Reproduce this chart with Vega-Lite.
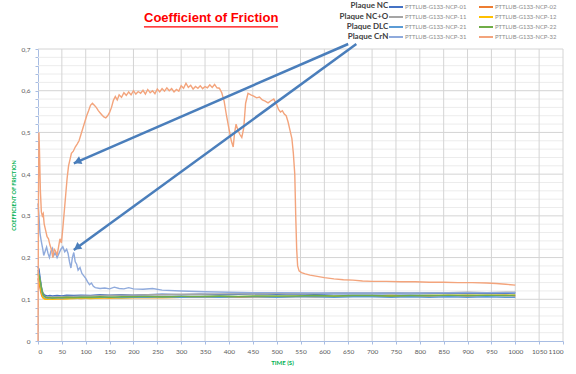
{
  "$schema": "https://vega.github.io/schema/vega-lite/v6.json",
  "width": 525,
  "height": 292,
  "autosize": {"type": "none"},
  "padding": {"left": 38, "top": 49, "right": 13, "bottom": 33},
  "background": "white",
  "config": {"view": {"stroke": null}, "font": "Lato"},
  "title": {"text": "Coefficient of Friction", "font": "Liberation Sans", "fontSize": 13, "fontWeight": "bold", "color": "#ff0000", "anchor": "start", "frame": "group", "dx": 106, "offset": -24},
  "datasets": {
    "vgrid": [
      {"t":50,"v":0,"v2":0.7},{"t":100,"v":0,"v2":0.7},{"t":150,"v":0,"v2":0.7},{"t":200,"v":0,"v2":0.7},{"t":250,"v":0,"v2":0.7},{"t":300,"v":0,"v2":0.7},{"t":350,"v":0,"v2":0.7},{"t":400,"v":0,"v2":0.7},{"t":450,"v":0,"v2":0.7},{"t":500,"v":0,"v2":0.7},{"t":550,"v":0,"v2":0.7},{"t":600,"v":0,"v2":0.7},{"t":650,"v":0,"v2":0.7},{"t":700,"v":0,"v2":0.7},{"t":750,"v":0,"v2":0.7},{"t":800,"v":0,"v2":0.7},{"t":850,"v":0,"v2":0.7},{"t":900,"v":0,"v2":0.7},{"t":950,"v":0,"v2":0.7},{"t":1000,"v":0,"v2":0.7},{"t":1050,"v":0,"v2":0.7},{"t":1100,"v":0,"v2":0.7}
    ],
    "hminor": [
      {"t":0,"t2":1100,"v":0.02},{"t":0,"t2":1100,"v":0.04},{"t":0,"t2":1100,"v":0.06},{"t":0,"t2":1100,"v":0.08},
      {"t":0,"t2":1100,"v":0.12},{"t":0,"t2":1100,"v":0.14},{"t":0,"t2":1100,"v":0.16},{"t":0,"t2":1100,"v":0.18},
      {"t":0,"t2":1100,"v":0.22},{"t":0,"t2":1100,"v":0.24},{"t":0,"t2":1100,"v":0.26},{"t":0,"t2":1100,"v":0.28},
      {"t":0,"t2":1100,"v":0.32},{"t":0,"t2":1100,"v":0.34},{"t":0,"t2":1100,"v":0.36},{"t":0,"t2":1100,"v":0.38},
      {"t":0,"t2":1100,"v":0.42},{"t":0,"t2":1100,"v":0.44},{"t":0,"t2":1100,"v":0.46},{"t":0,"t2":1100,"v":0.48},
      {"t":0,"t2":1100,"v":0.52},{"t":0,"t2":1100,"v":0.54},{"t":0,"t2":1100,"v":0.56},{"t":0,"t2":1100,"v":0.58},
      {"t":0,"t2":1100,"v":0.62},{"t":0,"t2":1100,"v":0.64},{"t":0,"t2":1100,"v":0.66},{"t":0,"t2":1100,"v":0.68}
    ],
    "hmajor": [
      {"t":0,"t2":1100,"v":0.1},{"t":0,"t2":1100,"v":0.2},{"t":0,"t2":1100,"v":0.3},{"t":0,"t2":1100,"v":0.4},{"t":0,"t2":1100,"v":0.5},{"t":0,"t2":1100,"v":0.6},{"t":0,"t2":1100,"v":0.7}
    ],
    "cof": [
      {"s":"PTTLUB-G133-NCP-01","t":0,"v":0.178},{"s":"PTTLUB-G133-NCP-01","t":2,"v":0.172},{"s":"PTTLUB-G133-NCP-01","t":4,"v":0.155},{"s":"PTTLUB-G133-NCP-01","t":6,"v":0.138},{"s":"PTTLUB-G133-NCP-01","t":8,"v":0.124},{"s":"PTTLUB-G133-NCP-01","t":10,"v":0.116},{"s":"PTTLUB-G133-NCP-01","t":13,"v":0.111},{"s":"PTTLUB-G133-NCP-01","t":16,"v":0.109},{"s":"PTTLUB-G133-NCP-01","t":20,"v":0.108},{"s":"PTTLUB-G133-NCP-01","t":25,"v":0.109},{"s":"PTTLUB-G133-NCP-01","t":30,"v":0.108},{"s":"PTTLUB-G133-NCP-01","t":40,"v":0.109},{"s":"PTTLUB-G133-NCP-01","t":50,"v":0.108},{"s":"PTTLUB-G133-NCP-01","t":60,"v":0.11},{"s":"PTTLUB-G133-NCP-01","t":75,"v":0.109},{"s":"PTTLUB-G133-NCP-01","t":90,"v":0.11},{"s":"PTTLUB-G133-NCP-01","t":110,"v":0.109},{"s":"PTTLUB-G133-NCP-01","t":130,"v":0.111},{"s":"PTTLUB-G133-NCP-01","t":150,"v":0.11},{"s":"PTTLUB-G133-NCP-01","t":175,"v":0.111},{"s":"PTTLUB-G133-NCP-01","t":200,"v":0.11},{"s":"PTTLUB-G133-NCP-01","t":230,"v":0.111},{"s":"PTTLUB-G133-NCP-01","t":260,"v":0.112},{"s":"PTTLUB-G133-NCP-01","t":300,"v":0.111},{"s":"PTTLUB-G133-NCP-01","t":340,"v":0.112},{"s":"PTTLUB-G133-NCP-01","t":380,"v":0.111},{"s":"PTTLUB-G133-NCP-01","t":420,"v":0.112},{"s":"PTTLUB-G133-NCP-01","t":460,"v":0.113},{"s":"PTTLUB-G133-NCP-01","t":500,"v":0.112},{"s":"PTTLUB-G133-NCP-01","t":540,"v":0.113},{"s":"PTTLUB-G133-NCP-01","t":580,"v":0.112},{"s":"PTTLUB-G133-NCP-01","t":620,"v":0.113},{"s":"PTTLUB-G133-NCP-01","t":660,"v":0.114},{"s":"PTTLUB-G133-NCP-01","t":700,"v":0.113},{"s":"PTTLUB-G133-NCP-01","t":740,"v":0.114},{"s":"PTTLUB-G133-NCP-01","t":780,"v":0.113},{"s":"PTTLUB-G133-NCP-01","t":820,"v":0.114},{"s":"PTTLUB-G133-NCP-01","t":860,"v":0.115},{"s":"PTTLUB-G133-NCP-01","t":900,"v":0.114},{"s":"PTTLUB-G133-NCP-01","t":940,"v":0.115},{"s":"PTTLUB-G133-NCP-01","t":980,"v":0.114},{"s":"PTTLUB-G133-NCP-01","t":1000,"v":0.115},
      {"s":"PTTLUB-G133-NCP-02","t":0,"v":0.15},{"s":"PTTLUB-G133-NCP-02","t":2,"v":0.14},{"s":"PTTLUB-G133-NCP-02","t":4,"v":0.128},{"s":"PTTLUB-G133-NCP-02","t":6,"v":0.116},{"s":"PTTLUB-G133-NCP-02","t":8,"v":0.108},{"s":"PTTLUB-G133-NCP-02","t":10,"v":0.104},{"s":"PTTLUB-G133-NCP-02","t":13,"v":0.102},{"s":"PTTLUB-G133-NCP-02","t":16,"v":0.101},{"s":"PTTLUB-G133-NCP-02","t":20,"v":0.101},{"s":"PTTLUB-G133-NCP-02","t":25,"v":0.102},{"s":"PTTLUB-G133-NCP-02","t":30,"v":0.101},{"s":"PTTLUB-G133-NCP-02","t":40,"v":0.102},{"s":"PTTLUB-G133-NCP-02","t":50,"v":0.101},{"s":"PTTLUB-G133-NCP-02","t":60,"v":0.102},{"s":"PTTLUB-G133-NCP-02","t":75,"v":0.103},{"s":"PTTLUB-G133-NCP-02","t":90,"v":0.102},{"s":"PTTLUB-G133-NCP-02","t":110,"v":0.103},{"s":"PTTLUB-G133-NCP-02","t":130,"v":0.104},{"s":"PTTLUB-G133-NCP-02","t":150,"v":0.103},{"s":"PTTLUB-G133-NCP-02","t":175,"v":0.104},{"s":"PTTLUB-G133-NCP-02","t":200,"v":0.104},{"s":"PTTLUB-G133-NCP-02","t":230,"v":0.105},{"s":"PTTLUB-G133-NCP-02","t":260,"v":0.104},{"s":"PTTLUB-G133-NCP-02","t":300,"v":0.105},{"s":"PTTLUB-G133-NCP-02","t":340,"v":0.105},{"s":"PTTLUB-G133-NCP-02","t":380,"v":0.106},{"s":"PTTLUB-G133-NCP-02","t":420,"v":0.105},{"s":"PTTLUB-G133-NCP-02","t":460,"v":0.106},{"s":"PTTLUB-G133-NCP-02","t":500,"v":0.106},{"s":"PTTLUB-G133-NCP-02","t":540,"v":0.107},{"s":"PTTLUB-G133-NCP-02","t":580,"v":0.106},{"s":"PTTLUB-G133-NCP-02","t":620,"v":0.107},{"s":"PTTLUB-G133-NCP-02","t":660,"v":0.107},{"s":"PTTLUB-G133-NCP-02","t":700,"v":0.108},{"s":"PTTLUB-G133-NCP-02","t":740,"v":0.107},{"s":"PTTLUB-G133-NCP-02","t":780,"v":0.108},{"s":"PTTLUB-G133-NCP-02","t":820,"v":0.108},{"s":"PTTLUB-G133-NCP-02","t":860,"v":0.109},{"s":"PTTLUB-G133-NCP-02","t":900,"v":0.108},{"s":"PTTLUB-G133-NCP-02","t":940,"v":0.109},{"s":"PTTLUB-G133-NCP-02","t":980,"v":0.109},{"s":"PTTLUB-G133-NCP-02","t":1000,"v":0.108},
      {"s":"PTTLUB-G133-NCP-11","t":0,"v":0.165},{"s":"PTTLUB-G133-NCP-11","t":2,"v":0.16},{"s":"PTTLUB-G133-NCP-11","t":4,"v":0.148},{"s":"PTTLUB-G133-NCP-11","t":6,"v":0.134},{"s":"PTTLUB-G133-NCP-11","t":8,"v":0.121},{"s":"PTTLUB-G133-NCP-11","t":10,"v":0.113},{"s":"PTTLUB-G133-NCP-11","t":13,"v":0.108},{"s":"PTTLUB-G133-NCP-11","t":16,"v":0.106},{"s":"PTTLUB-G133-NCP-11","t":20,"v":0.105},{"s":"PTTLUB-G133-NCP-11","t":25,"v":0.106},{"s":"PTTLUB-G133-NCP-11","t":30,"v":0.105},{"s":"PTTLUB-G133-NCP-11","t":40,"v":0.106},{"s":"PTTLUB-G133-NCP-11","t":50,"v":0.106},{"s":"PTTLUB-G133-NCP-11","t":60,"v":0.107},{"s":"PTTLUB-G133-NCP-11","t":75,"v":0.107},{"s":"PTTLUB-G133-NCP-11","t":90,"v":0.108},{"s":"PTTLUB-G133-NCP-11","t":110,"v":0.108},{"s":"PTTLUB-G133-NCP-11","t":130,"v":0.109},{"s":"PTTLUB-G133-NCP-11","t":150,"v":0.109},{"s":"PTTLUB-G133-NCP-11","t":175,"v":0.11},{"s":"PTTLUB-G133-NCP-11","t":200,"v":0.11},{"s":"PTTLUB-G133-NCP-11","t":230,"v":0.111},{"s":"PTTLUB-G133-NCP-11","t":260,"v":0.111},{"s":"PTTLUB-G133-NCP-11","t":300,"v":0.112},{"s":"PTTLUB-G133-NCP-11","t":340,"v":0.112},{"s":"PTTLUB-G133-NCP-11","t":380,"v":0.113},{"s":"PTTLUB-G133-NCP-11","t":420,"v":0.113},{"s":"PTTLUB-G133-NCP-11","t":460,"v":0.113},{"s":"PTTLUB-G133-NCP-11","t":500,"v":0.114},{"s":"PTTLUB-G133-NCP-11","t":540,"v":0.114},{"s":"PTTLUB-G133-NCP-11","t":580,"v":0.114},{"s":"PTTLUB-G133-NCP-11","t":620,"v":0.115},{"s":"PTTLUB-G133-NCP-11","t":660,"v":0.115},{"s":"PTTLUB-G133-NCP-11","t":700,"v":0.115},{"s":"PTTLUB-G133-NCP-11","t":740,"v":0.116},{"s":"PTTLUB-G133-NCP-11","t":780,"v":0.115},{"s":"PTTLUB-G133-NCP-11","t":820,"v":0.116},{"s":"PTTLUB-G133-NCP-11","t":860,"v":0.116},{"s":"PTTLUB-G133-NCP-11","t":900,"v":0.117},{"s":"PTTLUB-G133-NCP-11","t":940,"v":0.116},{"s":"PTTLUB-G133-NCP-11","t":980,"v":0.117},{"s":"PTTLUB-G133-NCP-11","t":1000,"v":0.117},
      {"s":"PTTLUB-G133-NCP-12","t":0,"v":0.16},{"s":"PTTLUB-G133-NCP-12","t":2,"v":0.152},{"s":"PTTLUB-G133-NCP-12","t":4,"v":0.138},{"s":"PTTLUB-G133-NCP-12","t":6,"v":0.124},{"s":"PTTLUB-G133-NCP-12","t":8,"v":0.112},{"s":"PTTLUB-G133-NCP-12","t":10,"v":0.105},{"s":"PTTLUB-G133-NCP-12","t":13,"v":0.101},{"s":"PTTLUB-G133-NCP-12","t":16,"v":0.1},{"s":"PTTLUB-G133-NCP-12","t":20,"v":0.1},{"s":"PTTLUB-G133-NCP-12","t":25,"v":0.101},{"s":"PTTLUB-G133-NCP-12","t":30,"v":0.1},{"s":"PTTLUB-G133-NCP-12","t":40,"v":0.101},{"s":"PTTLUB-G133-NCP-12","t":50,"v":0.102},{"s":"PTTLUB-G133-NCP-12","t":60,"v":0.101},{"s":"PTTLUB-G133-NCP-12","t":75,"v":0.102},{"s":"PTTLUB-G133-NCP-12","t":90,"v":0.103},{"s":"PTTLUB-G133-NCP-12","t":110,"v":0.102},{"s":"PTTLUB-G133-NCP-12","t":130,"v":0.103},{"s":"PTTLUB-G133-NCP-12","t":150,"v":0.104},{"s":"PTTLUB-G133-NCP-12","t":175,"v":0.103},{"s":"PTTLUB-G133-NCP-12","t":200,"v":0.104},{"s":"PTTLUB-G133-NCP-12","t":230,"v":0.105},{"s":"PTTLUB-G133-NCP-12","t":260,"v":0.104},{"s":"PTTLUB-G133-NCP-12","t":300,"v":0.105},{"s":"PTTLUB-G133-NCP-12","t":340,"v":0.106},{"s":"PTTLUB-G133-NCP-12","t":380,"v":0.105},{"s":"PTTLUB-G133-NCP-12","t":420,"v":0.106},{"s":"PTTLUB-G133-NCP-12","t":460,"v":0.107},{"s":"PTTLUB-G133-NCP-12","t":500,"v":0.106},{"s":"PTTLUB-G133-NCP-12","t":540,"v":0.107},{"s":"PTTLUB-G133-NCP-12","t":580,"v":0.108},{"s":"PTTLUB-G133-NCP-12","t":620,"v":0.107},{"s":"PTTLUB-G133-NCP-12","t":660,"v":0.108},{"s":"PTTLUB-G133-NCP-12","t":700,"v":0.108},{"s":"PTTLUB-G133-NCP-12","t":740,"v":0.109},{"s":"PTTLUB-G133-NCP-12","t":780,"v":0.108},{"s":"PTTLUB-G133-NCP-12","t":820,"v":0.109},{"s":"PTTLUB-G133-NCP-12","t":860,"v":0.109},{"s":"PTTLUB-G133-NCP-12","t":900,"v":0.11},{"s":"PTTLUB-G133-NCP-12","t":940,"v":0.109},{"s":"PTTLUB-G133-NCP-12","t":980,"v":0.11},{"s":"PTTLUB-G133-NCP-12","t":1000,"v":0.11},
      {"s":"PTTLUB-G133-NCP-21","t":0,"v":0.17},{"s":"PTTLUB-G133-NCP-21","t":2,"v":0.163},{"s":"PTTLUB-G133-NCP-21","t":4,"v":0.15},{"s":"PTTLUB-G133-NCP-21","t":6,"v":0.135},{"s":"PTTLUB-G133-NCP-21","t":8,"v":0.12},{"s":"PTTLUB-G133-NCP-21","t":10,"v":0.111},{"s":"PTTLUB-G133-NCP-21","t":13,"v":0.106},{"s":"PTTLUB-G133-NCP-21","t":16,"v":0.104},{"s":"PTTLUB-G133-NCP-21","t":20,"v":0.103},{"s":"PTTLUB-G133-NCP-21","t":25,"v":0.104},{"s":"PTTLUB-G133-NCP-21","t":30,"v":0.103},{"s":"PTTLUB-G133-NCP-21","t":40,"v":0.104},{"s":"PTTLUB-G133-NCP-21","t":50,"v":0.103},{"s":"PTTLUB-G133-NCP-21","t":60,"v":0.104},{"s":"PTTLUB-G133-NCP-21","t":75,"v":0.104},{"s":"PTTLUB-G133-NCP-21","t":90,"v":0.105},{"s":"PTTLUB-G133-NCP-21","t":110,"v":0.104},{"s":"PTTLUB-G133-NCP-21","t":130,"v":0.105},{"s":"PTTLUB-G133-NCP-21","t":150,"v":0.105},{"s":"PTTLUB-G133-NCP-21","t":175,"v":0.104},{"s":"PTTLUB-G133-NCP-21","t":200,"v":0.105},{"s":"PTTLUB-G133-NCP-21","t":230,"v":0.105},{"s":"PTTLUB-G133-NCP-21","t":260,"v":0.106},{"s":"PTTLUB-G133-NCP-21","t":300,"v":0.105},{"s":"PTTLUB-G133-NCP-21","t":340,"v":0.106},{"s":"PTTLUB-G133-NCP-21","t":380,"v":0.105},{"s":"PTTLUB-G133-NCP-21","t":420,"v":0.106},{"s":"PTTLUB-G133-NCP-21","t":460,"v":0.106},{"s":"PTTLUB-G133-NCP-21","t":500,"v":0.105},{"s":"PTTLUB-G133-NCP-21","t":540,"v":0.106},{"s":"PTTLUB-G133-NCP-21","t":580,"v":0.106},{"s":"PTTLUB-G133-NCP-21","t":620,"v":0.105},{"s":"PTTLUB-G133-NCP-21","t":660,"v":0.106},{"s":"PTTLUB-G133-NCP-21","t":700,"v":0.106},{"s":"PTTLUB-G133-NCP-21","t":740,"v":0.105},{"s":"PTTLUB-G133-NCP-21","t":780,"v":0.106},{"s":"PTTLUB-G133-NCP-21","t":820,"v":0.105},{"s":"PTTLUB-G133-NCP-21","t":860,"v":0.106},{"s":"PTTLUB-G133-NCP-21","t":900,"v":0.105},{"s":"PTTLUB-G133-NCP-21","t":940,"v":0.106},{"s":"PTTLUB-G133-NCP-21","t":980,"v":0.105},{"s":"PTTLUB-G133-NCP-21","t":1000,"v":0.105},
      {"s":"PTTLUB-G133-NCP-22","t":0,"v":0.162},{"s":"PTTLUB-G133-NCP-22","t":2,"v":0.158},{"s":"PTTLUB-G133-NCP-22","t":4,"v":0.148},{"s":"PTTLUB-G133-NCP-22","t":6,"v":0.135},{"s":"PTTLUB-G133-NCP-22","t":8,"v":0.123},{"s":"PTTLUB-G133-NCP-22","t":10,"v":0.114},{"s":"PTTLUB-G133-NCP-22","t":13,"v":0.108},{"s":"PTTLUB-G133-NCP-22","t":16,"v":0.105},{"s":"PTTLUB-G133-NCP-22","t":20,"v":0.104},{"s":"PTTLUB-G133-NCP-22","t":25,"v":0.104},{"s":"PTTLUB-G133-NCP-22","t":30,"v":0.103},{"s":"PTTLUB-G133-NCP-22","t":40,"v":0.104},{"s":"PTTLUB-G133-NCP-22","t":50,"v":0.104},{"s":"PTTLUB-G133-NCP-22","t":60,"v":0.105},{"s":"PTTLUB-G133-NCP-22","t":75,"v":0.104},{"s":"PTTLUB-G133-NCP-22","t":90,"v":0.105},{"s":"PTTLUB-G133-NCP-22","t":110,"v":0.105},{"s":"PTTLUB-G133-NCP-22","t":130,"v":0.106},{"s":"PTTLUB-G133-NCP-22","t":150,"v":0.105},{"s":"PTTLUB-G133-NCP-22","t":175,"v":0.106},{"s":"PTTLUB-G133-NCP-22","t":200,"v":0.106},{"s":"PTTLUB-G133-NCP-22","t":230,"v":0.107},{"s":"PTTLUB-G133-NCP-22","t":260,"v":0.106},{"s":"PTTLUB-G133-NCP-22","t":300,"v":0.107},{"s":"PTTLUB-G133-NCP-22","t":340,"v":0.107},{"s":"PTTLUB-G133-NCP-22","t":380,"v":0.108},{"s":"PTTLUB-G133-NCP-22","t":420,"v":0.107},{"s":"PTTLUB-G133-NCP-22","t":460,"v":0.108},{"s":"PTTLUB-G133-NCP-22","t":500,"v":0.108},{"s":"PTTLUB-G133-NCP-22","t":540,"v":0.108},{"s":"PTTLUB-G133-NCP-22","t":580,"v":0.109},{"s":"PTTLUB-G133-NCP-22","t":620,"v":0.108},{"s":"PTTLUB-G133-NCP-22","t":660,"v":0.109},{"s":"PTTLUB-G133-NCP-22","t":700,"v":0.109},{"s":"PTTLUB-G133-NCP-22","t":740,"v":0.108},{"s":"PTTLUB-G133-NCP-22","t":780,"v":0.109},{"s":"PTTLUB-G133-NCP-22","t":820,"v":0.109},{"s":"PTTLUB-G133-NCP-22","t":860,"v":0.11},{"s":"PTTLUB-G133-NCP-22","t":900,"v":0.109},{"s":"PTTLUB-G133-NCP-22","t":940,"v":0.11},{"s":"PTTLUB-G133-NCP-22","t":980,"v":0.109},{"s":"PTTLUB-G133-NCP-22","t":1000,"v":0.11},
      {"s":"PTTLUB-G133-NCP-31","t":0,"v":0.33},{"s":"PTTLUB-G133-NCP-31","t":2,"v":0.3},{"s":"PTTLUB-G133-NCP-31","t":4,"v":0.26},{"s":"PTTLUB-G133-NCP-31","t":6,"v":0.245},{"s":"PTTLUB-G133-NCP-31","t":8,"v":0.232},{"s":"PTTLUB-G133-NCP-31","t":10,"v":0.22},{"s":"PTTLUB-G133-NCP-31","t":12,"v":0.205},{"s":"PTTLUB-G133-NCP-31","t":15,"v":0.215},{"s":"PTTLUB-G133-NCP-31","t":18,"v":0.225},{"s":"PTTLUB-G133-NCP-31","t":21,"v":0.21},{"s":"PTTLUB-G133-NCP-31","t":24,"v":0.2},{"s":"PTTLUB-G133-NCP-31","t":27,"v":0.215},{"s":"PTTLUB-G133-NCP-31","t":30,"v":0.222},{"s":"PTTLUB-G133-NCP-31","t":33,"v":0.205},{"s":"PTTLUB-G133-NCP-31","t":36,"v":0.212},{"s":"PTTLUB-G133-NCP-31","t":40,"v":0.2},{"s":"PTTLUB-G133-NCP-31","t":44,"v":0.21},{"s":"PTTLUB-G133-NCP-31","t":48,"v":0.22},{"s":"PTTLUB-G133-NCP-31","t":52,"v":0.226},{"s":"PTTLUB-G133-NCP-31","t":56,"v":0.214},{"s":"PTTLUB-G133-NCP-31","t":60,"v":0.22},{"s":"PTTLUB-G133-NCP-31","t":63,"v":0.21},{"s":"PTTLUB-G133-NCP-31","t":66,"v":0.19},{"s":"PTTLUB-G133-NCP-31","t":69,"v":0.175},{"s":"PTTLUB-G133-NCP-31","t":72,"v":0.2},{"s":"PTTLUB-G133-NCP-31","t":75,"v":0.212},{"s":"PTTLUB-G133-NCP-31","t":78,"v":0.19},{"s":"PTTLUB-G133-NCP-31","t":81,"v":0.184},{"s":"PTTLUB-G133-NCP-31","t":84,"v":0.17},{"s":"PTTLUB-G133-NCP-31","t":88,"v":0.176},{"s":"PTTLUB-G133-NCP-31","t":92,"v":0.162},{"s":"PTTLUB-G133-NCP-31","t":96,"v":0.156},{"s":"PTTLUB-G133-NCP-31","t":100,"v":0.15},{"s":"PTTLUB-G133-NCP-31","t":104,"v":0.142},{"s":"PTTLUB-G133-NCP-31","t":108,"v":0.135},{"s":"PTTLUB-G133-NCP-31","t":112,"v":0.139},{"s":"PTTLUB-G133-NCP-31","t":116,"v":0.131},{"s":"PTTLUB-G133-NCP-31","t":120,"v":0.128},{"s":"PTTLUB-G133-NCP-31","t":130,"v":0.126},{"s":"PTTLUB-G133-NCP-31","t":140,"v":0.127},{"s":"PTTLUB-G133-NCP-31","t":150,"v":0.125},{"s":"PTTLUB-G133-NCP-31","t":160,"v":0.129},{"s":"PTTLUB-G133-NCP-31","t":170,"v":0.126},{"s":"PTTLUB-G133-NCP-31","t":180,"v":0.125},{"s":"PTTLUB-G133-NCP-31","t":190,"v":0.128},{"s":"PTTLUB-G133-NCP-31","t":200,"v":0.125},{"s":"PTTLUB-G133-NCP-31","t":220,"v":0.124},{"s":"PTTLUB-G133-NCP-31","t":240,"v":0.126},{"s":"PTTLUB-G133-NCP-31","t":260,"v":0.122},{"s":"PTTLUB-G133-NCP-31","t":300,"v":0.12},{"s":"PTTLUB-G133-NCP-31","t":350,"v":0.118},{"s":"PTTLUB-G133-NCP-31","t":400,"v":0.117},{"s":"PTTLUB-G133-NCP-31","t":450,"v":0.116},{"s":"PTTLUB-G133-NCP-31","t":500,"v":0.116},{"s":"PTTLUB-G133-NCP-31","t":600,"v":0.115},{"s":"PTTLUB-G133-NCP-31","t":700,"v":0.115},{"s":"PTTLUB-G133-NCP-31","t":800,"v":0.115},{"s":"PTTLUB-G133-NCP-31","t":900,"v":0.116},{"s":"PTTLUB-G133-NCP-31","t":1000,"v":0.116},
      {"s":"PTTLUB-G133-NCP-32","t":0,"v":0.0},{"s":"PTTLUB-G133-NCP-32","t":1,"v":0.35},{"s":"PTTLUB-G133-NCP-32","t":2,"v":0.5},{"s":"PTTLUB-G133-NCP-32","t":3,"v":0.46},{"s":"PTTLUB-G133-NCP-32","t":5,"v":0.36},{"s":"PTTLUB-G133-NCP-32","t":7,"v":0.31},{"s":"PTTLUB-G133-NCP-32","t":9,"v":0.3},{"s":"PTTLUB-G133-NCP-32","t":11,"v":0.305},{"s":"PTTLUB-G133-NCP-32","t":13,"v":0.28},{"s":"PTTLUB-G133-NCP-32","t":16,"v":0.265},{"s":"PTTLUB-G133-NCP-32","t":19,"v":0.25},{"s":"PTTLUB-G133-NCP-32","t":22,"v":0.245},{"s":"PTTLUB-G133-NCP-32","t":25,"v":0.23},{"s":"PTTLUB-G133-NCP-32","t":28,"v":0.22},{"s":"PTTLUB-G133-NCP-32","t":31,"v":0.2},{"s":"PTTLUB-G133-NCP-32","t":34,"v":0.22},{"s":"PTTLUB-G133-NCP-32","t":37,"v":0.215},{"s":"PTTLUB-G133-NCP-32","t":40,"v":0.205},{"s":"PTTLUB-G133-NCP-32","t":43,"v":0.225},{"s":"PTTLUB-G133-NCP-32","t":46,"v":0.245},{"s":"PTTLUB-G133-NCP-32","t":49,"v":0.235},{"s":"PTTLUB-G133-NCP-32","t":52,"v":0.27},{"s":"PTTLUB-G133-NCP-32","t":55,"v":0.31},{"s":"PTTLUB-G133-NCP-32","t":58,"v":0.35},{"s":"PTTLUB-G133-NCP-32","t":61,"v":0.39},{"s":"PTTLUB-G133-NCP-32","t":64,"v":0.42},{"s":"PTTLUB-G133-NCP-32","t":67,"v":0.435},{"s":"PTTLUB-G133-NCP-32","t":70,"v":0.45},{"s":"PTTLUB-G133-NCP-32","t":74,"v":0.455},{"s":"PTTLUB-G133-NCP-32","t":78,"v":0.465},{"s":"PTTLUB-G133-NCP-32","t":82,"v":0.472},{"s":"PTTLUB-G133-NCP-32","t":86,"v":0.48},{"s":"PTTLUB-G133-NCP-32","t":90,"v":0.495},{"s":"PTTLUB-G133-NCP-32","t":94,"v":0.51},{"s":"PTTLUB-G133-NCP-32","t":98,"v":0.525},{"s":"PTTLUB-G133-NCP-32","t":102,"v":0.54},{"s":"PTTLUB-G133-NCP-32","t":106,"v":0.552},{"s":"PTTLUB-G133-NCP-32","t":110,"v":0.565},{"s":"PTTLUB-G133-NCP-32","t":114,"v":0.57},{"s":"PTTLUB-G133-NCP-32","t":118,"v":0.565},{"s":"PTTLUB-G133-NCP-32","t":122,"v":0.56},{"s":"PTTLUB-G133-NCP-32","t":126,"v":0.553},{"s":"PTTLUB-G133-NCP-32","t":130,"v":0.547},{"s":"PTTLUB-G133-NCP-32","t":134,"v":0.542},{"s":"PTTLUB-G133-NCP-32","t":138,"v":0.537},{"s":"PTTLUB-G133-NCP-32","t":142,"v":0.535},{"s":"PTTLUB-G133-NCP-32","t":146,"v":0.54},{"s":"PTTLUB-G133-NCP-32","t":150,"v":0.548},{"s":"PTTLUB-G133-NCP-32","t":154,"v":0.56},{"s":"PTTLUB-G133-NCP-32","t":158,"v":0.577},{"s":"PTTLUB-G133-NCP-32","t":162,"v":0.586},{"s":"PTTLUB-G133-NCP-32","t":166,"v":0.578},{"s":"PTTLUB-G133-NCP-32","t":170,"v":0.59},{"s":"PTTLUB-G133-NCP-32","t":175,"v":0.584},{"s":"PTTLUB-G133-NCP-32","t":180,"v":0.595},{"s":"PTTLUB-G133-NCP-32","t":185,"v":0.589},{"s":"PTTLUB-G133-NCP-32","t":190,"v":0.597},{"s":"PTTLUB-G133-NCP-32","t":195,"v":0.59},{"s":"PTTLUB-G133-NCP-32","t":200,"v":0.6},{"s":"PTTLUB-G133-NCP-32","t":205,"v":0.592},{"s":"PTTLUB-G133-NCP-32","t":210,"v":0.598},{"s":"PTTLUB-G133-NCP-32","t":215,"v":0.594},{"s":"PTTLUB-G133-NCP-32","t":220,"v":0.601},{"s":"PTTLUB-G133-NCP-32","t":225,"v":0.592},{"s":"PTTLUB-G133-NCP-32","t":230,"v":0.603},{"s":"PTTLUB-G133-NCP-32","t":235,"v":0.595},{"s":"PTTLUB-G133-NCP-32","t":240,"v":0.6},{"s":"PTTLUB-G133-NCP-32","t":245,"v":0.593},{"s":"PTTLUB-G133-NCP-32","t":250,"v":0.604},{"s":"PTTLUB-G133-NCP-32","t":255,"v":0.597},{"s":"PTTLUB-G133-NCP-32","t":260,"v":0.605},{"s":"PTTLUB-G133-NCP-32","t":265,"v":0.599},{"s":"PTTLUB-G133-NCP-32","t":270,"v":0.607},{"s":"PTTLUB-G133-NCP-32","t":275,"v":0.6},{"s":"PTTLUB-G133-NCP-32","t":280,"v":0.605},{"s":"PTTLUB-G133-NCP-32","t":285,"v":0.597},{"s":"PTTLUB-G133-NCP-32","t":290,"v":0.603},{"s":"PTTLUB-G133-NCP-32","t":295,"v":0.599},{"s":"PTTLUB-G133-NCP-32","t":300,"v":0.612},{"s":"PTTLUB-G133-NCP-32","t":305,"v":0.606},{"s":"PTTLUB-G133-NCP-32","t":310,"v":0.618},{"s":"PTTLUB-G133-NCP-32","t":315,"v":0.608},{"s":"PTTLUB-G133-NCP-32","t":320,"v":0.613},{"s":"PTTLUB-G133-NCP-32","t":325,"v":0.604},{"s":"PTTLUB-G133-NCP-32","t":330,"v":0.61},{"s":"PTTLUB-G133-NCP-32","t":335,"v":0.606},{"s":"PTTLUB-G133-NCP-32","t":340,"v":0.612},{"s":"PTTLUB-G133-NCP-32","t":345,"v":0.605},{"s":"PTTLUB-G133-NCP-32","t":350,"v":0.61},{"s":"PTTLUB-G133-NCP-32","t":355,"v":0.607},{"s":"PTTLUB-G133-NCP-32","t":360,"v":0.614},{"s":"PTTLUB-G133-NCP-32","t":365,"v":0.608},{"s":"PTTLUB-G133-NCP-32","t":370,"v":0.615},{"s":"PTTLUB-G133-NCP-32","t":375,"v":0.607},{"s":"PTTLUB-G133-NCP-32","t":380,"v":0.606},{"s":"PTTLUB-G133-NCP-32","t":385,"v":0.595},{"s":"PTTLUB-G133-NCP-32","t":390,"v":0.575},{"s":"PTTLUB-G133-NCP-32","t":395,"v":0.54},{"s":"PTTLUB-G133-NCP-32","t":400,"v":0.51},{"s":"PTTLUB-G133-NCP-32","t":405,"v":0.48},{"s":"PTTLUB-G133-NCP-32","t":409,"v":0.465},{"s":"PTTLUB-G133-NCP-32","t":412,"v":0.5},{"s":"PTTLUB-G133-NCP-32","t":415,"v":0.52},{"s":"PTTLUB-G133-NCP-32","t":419,"v":0.505},{"s":"PTTLUB-G133-NCP-32","t":423,"v":0.495},{"s":"PTTLUB-G133-NCP-32","t":427,"v":0.488},{"s":"PTTLUB-G133-NCP-32","t":431,"v":0.51},{"s":"PTTLUB-G133-NCP-32","t":435,"v":0.57},{"s":"PTTLUB-G133-NCP-32","t":440,"v":0.594},{"s":"PTTLUB-G133-NCP-32","t":446,"v":0.59},{"s":"PTTLUB-G133-NCP-32","t":452,"v":0.587},{"s":"PTTLUB-G133-NCP-32","t":458,"v":0.583},{"s":"PTTLUB-G133-NCP-32","t":464,"v":0.585},{"s":"PTTLUB-G133-NCP-32","t":470,"v":0.578},{"s":"PTTLUB-G133-NCP-32","t":476,"v":0.575},{"s":"PTTLUB-G133-NCP-32","t":482,"v":0.571},{"s":"PTTLUB-G133-NCP-32","t":488,"v":0.576},{"s":"PTTLUB-G133-NCP-32","t":494,"v":0.58},{"s":"PTTLUB-G133-NCP-32","t":500,"v":0.567},{"s":"PTTLUB-G133-NCP-32","t":504,"v":0.555},{"s":"PTTLUB-G133-NCP-32","t":508,"v":0.549},{"s":"PTTLUB-G133-NCP-32","t":512,"v":0.552},{"s":"PTTLUB-G133-NCP-32","t":516,"v":0.544},{"s":"PTTLUB-G133-NCP-32","t":520,"v":0.54},{"s":"PTTLUB-G133-NCP-32","t":524,"v":0.525},{"s":"PTTLUB-G133-NCP-32","t":528,"v":0.505},{"s":"PTTLUB-G133-NCP-32","t":532,"v":0.485},{"s":"PTTLUB-G133-NCP-32","t":535,"v":0.45},{"s":"PTTLUB-G133-NCP-32","t":538,"v":0.4},{"s":"PTTLUB-G133-NCP-32","t":540,"v":0.3},{"s":"PTTLUB-G133-NCP-32","t":542,"v":0.22},{"s":"PTTLUB-G133-NCP-32","t":544,"v":0.18},{"s":"PTTLUB-G133-NCP-32","t":547,"v":0.168},{"s":"PTTLUB-G133-NCP-32","t":552,"v":0.164},{"s":"PTTLUB-G133-NCP-32","t":560,"v":0.161},{"s":"PTTLUB-G133-NCP-32","t":570,"v":0.158},{"s":"PTTLUB-G133-NCP-32","t":585,"v":0.155},{"s":"PTTLUB-G133-NCP-32","t":600,"v":0.152},{"s":"PTTLUB-G133-NCP-32","t":620,"v":0.149},{"s":"PTTLUB-G133-NCP-32","t":640,"v":0.147},{"s":"PTTLUB-G133-NCP-32","t":660,"v":0.146},{"s":"PTTLUB-G133-NCP-32","t":680,"v":0.144},{"s":"PTTLUB-G133-NCP-32","t":700,"v":0.143},{"s":"PTTLUB-G133-NCP-32","t":730,"v":0.143},{"s":"PTTLUB-G133-NCP-32","t":760,"v":0.142},{"s":"PTTLUB-G133-NCP-32","t":790,"v":0.142},{"s":"PTTLUB-G133-NCP-32","t":820,"v":0.141},{"s":"PTTLUB-G133-NCP-32","t":850,"v":0.141},{"s":"PTTLUB-G133-NCP-32","t":880,"v":0.14},{"s":"PTTLUB-G133-NCP-32","t":910,"v":0.14},{"s":"PTTLUB-G133-NCP-32","t":940,"v":0.139},{"s":"PTTLUB-G133-NCP-32","t":960,"v":0.138},{"s":"PTTLUB-G133-NCP-32","t":980,"v":0.136},{"s":"PTTLUB-G133-NCP-32","t":1000,"v":0.134}
    ],
    "arrows": [
      {"t": 650, "v": 0.712, "t2": 75, "v2": 0.426},
      {"t": 667, "v": 0.712, "t2": 75, "v2": 0.218}
    ],
    "heads": [
      {"t": 82.5, "v": 0.43, "a": 246.5},
      {"t": 81.5, "v": 0.224, "a": 234}
    ],
    "groups": [
      {"g": "Plaque NC", "t": 734, "v": 0.803},
      {"g": "Plaque NC+O", "t": 734, "v": 0.777},
      {"g": "Plaque DLC", "t": 734, "v": 0.752},
      {"g": "Plaque CrN", "t": 734, "v": 0.728}
    ]
  },
  "encoding": {
    "x": {"field": "t", "type": "quantitative",
      "scale": {"domain": [0, 1100], "nice": false},
      "axis": {"values": [0,50,100,150,200,250,300,350,400,450,500,550,600,650,700,750,800,850,900,950,1000,1050,1100],
        "format": "d",
        "grid": false, "domainColor": "#a8bde3", "tickColor": "#a8bde3", "tickSize": 3,
        "labelFontSize": 6.5, "labelColor": "#595959", "labelPadding": 4, "labelFont": "Lato",
        "title": "TIME (S)", "titleColor": "#00b050", "titleFontSize": 6, "titleFontWeight": "bold", "titleFont": "Lato", "titlePadding": 5, "titleX": 244}},
    "y": {"field": "v", "type": "quantitative",
      "scale": {"domain": [0, 0.7], "nice": false},
      "axis": {"values": [0,0.02,0.04,0.06,0.08,0.1,0.12,0.14,0.16,0.18,0.2,0.22,0.24,0.26,0.28,0.3,0.32,0.34,0.36,0.38,0.4,0.42,0.44,0.46,0.48,0.5,0.52,0.54,0.56,0.58,0.6,0.62,0.64,0.66,0.68,0.7],
        "labelExpr": "round(datum.value*100) % 10 === 0 ? (datum.value === 0 ? '0' : replace(format(datum.value, '.1f'), '.', ',')) : ''",
        "grid": false,
        "domainColor": "#a8bde3", "tickColor": "#a8bde3", "tickSize": 3,
        "labelFontSize": 6.5, "labelColor": "#595959", "labelPadding": 5, "labelFont": "Lato",
        "title": "COEFFICIENT OF FRICTION", "titleColor": "#00b050", "titleFontSize": 5.5, "titleFontWeight": "bold", "titleFont": "Lato", "titlePadding": 4}}
  },
  "layer": [
    {
      "data": {"name": "hminor"},
      "mark": {"type": "rule", "color": "#ececec", "strokeWidth": 1},
      "encoding": {
        "x2": {"field": "t2"}
      }
    },
    {
      "data": {"name": "vgrid"},
      "mark": {"type": "rule", "color": "#d4d4d4", "strokeWidth": 1},
      "encoding": {
        "y2": {"field": "v2"}
      }
    },
    {
      "data": {"name": "hmajor"},
      "mark": {"type": "rule", "color": "#d4d4d4", "strokeWidth": 1},
      "encoding": {
        "x2": {"field": "t2"}
      }
    },
    {
      "data": {"name": "cof"},
      "mark": {"type": "line", "strokeWidth": 1.4},
      "encoding": {
        "color": {"field": "s", "type": "nominal",
          "scale": {"domain": ["PTTLUB-G133-NCP-01","PTTLUB-G133-NCP-02","PTTLUB-G133-NCP-11","PTTLUB-G133-NCP-12","PTTLUB-G133-NCP-21","PTTLUB-G133-NCP-22","PTTLUB-G133-NCP-31","PTTLUB-G133-NCP-32"],
                    "range": ["#4472c4","#ed7d31","#a5a5a5","#ffc000","#5b9bd5","#70ad47","#8faadc","#f3a47c"]},
          "legend": {"orient": "none", "legendX": 352, "legendY": -48, "columns": 2, "direction": "horizontal", "title": null,
            "symbolType": "M-1.4,0H1.4", "symbolSize": 100, "symbolStrokeWidth": 2,
            "labelFontSize": 5.9, "labelColor": "#8c8c8c", "labelFont": "Lato", "labelOffset": 3,
            "columnPadding": 8, "rowPadding": 0}}
      }
    },
    {
      "data": {"name": "arrows"},
      "mark": {"type": "rule", "color": "#4a7ebb", "strokeWidth": 2.5},
      "encoding": {
        "x2": {"field": "t2"},
        "y2": {"field": "v2"}
      }
    },
    {
      "data": {"name": "heads"},
      "mark": {"type": "point", "shape": "triangle-up", "filled": true, "color": "#4a7ebb", "opacity": 1, "size": 70},
      "encoding": {
        "angle": {"field": "a", "type": "quantitative", "scale": null}
      }
    },
    {
      "data": {"name": "groups"},
      "mark": {"type": "text", "align": "right", "baseline": "middle", "font": "Lato", "fontSize": 8, "fontWeight": "bold", "color": "#404040"},
      "encoding": {
        "text": {"field": "g"}
      }
    },
    {
      "data": {"values": [{"t": 222, "t2": 503, "v": 0.753}]},
      "mark": {"type": "rule", "color": "#ff0000", "strokeWidth": 1.2},
      "encoding": {
        "x2": {"field": "t2"}
      }
    }
  ]
}
